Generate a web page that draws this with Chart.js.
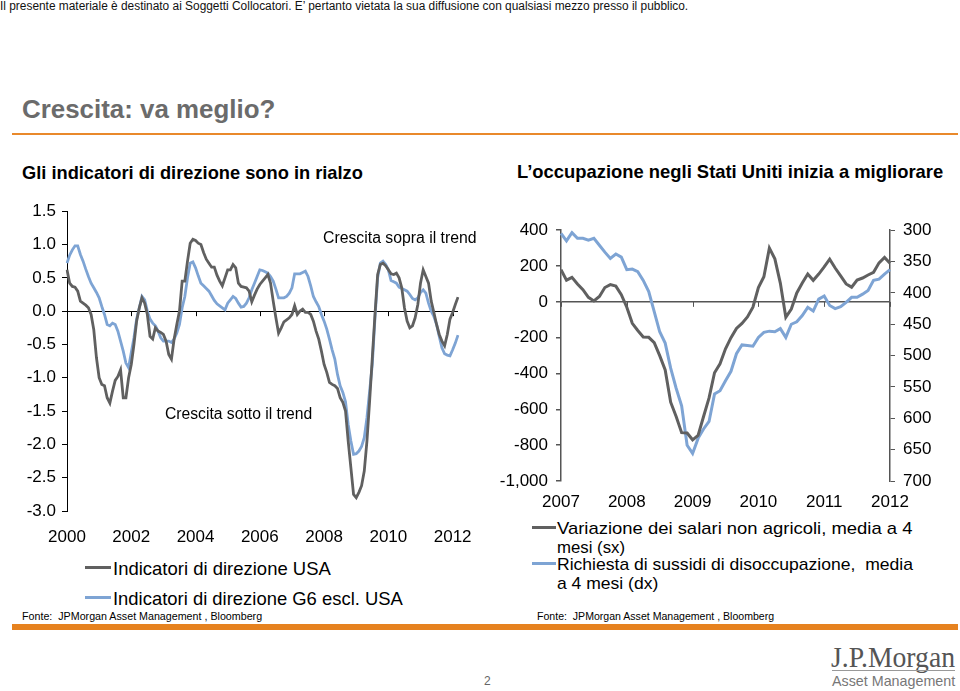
<!DOCTYPE html>
<html>
<head>
<meta charset="utf-8">
<script src="https://cdn.jsdelivr.net/npm/chart.js@4.4.1/dist/chart.umd.min.js"></script>
<style>
  html, body { margin: 0; padding: 0; background: #fff; }
  body { width: 960px; height: 691px; position: relative; overflow: hidden; font-family: "Liberation Sans", Arial, sans-serif; }
  .t { position: absolute; white-space: nowrap; line-height: 1; transform-origin: left center; }
  .bar { position: absolute; }
  canvas { position: absolute; }
</style>
</head>
<body>

<span class="t" style="left:0;top:6px;font-size:12px;color:#111" data-w="688">Il presente materiale è destinato ai Soggetti Collocatori. E’ pertanto vietata la sua diffusione con qualsiasi mezzo presso il pubblico.</span>

<span class="t" style="left:22px;top:109px;font-size:26px;font-weight:bold;color:#6b6b6b" data-w="253">Crescita: va meglio?</span>
<div class="bar" style="left:12px;top:133px;width:946px;height:2px;background:#e9892b"></div>

<span class="t" style="left:22px;top:172px;font-size:19px;font-weight:bold;color:#000" data-w="341">Gli indicatori di direzione sono in rialzo</span>
<span class="t" style="left:517px;top:171px;font-size:19px;font-weight:bold;color:#000" data-w="426">L’occupazione negli Stati Uniti inizia a migliorare</span>

<canvas id="leftChart" width="475" height="356" style="left:0;top:195px"></canvas>
<canvas id="rightChart" width="465" height="305" style="left:495px;top:212px"></canvas>

<span class="t" style="left:323px;top:238px;font-size:16px;color:#000" data-w="154">Crescita sopra il trend</span>
<span class="t" style="left:165px;top:414px;font-size:16px;color:#000" data-w="147">Crescita sotto il trend</span>

<!-- legend left -->
<div class="bar" style="left:85px;top:566px;width:26px;height:3px;background:#606060"></div>
<span class="t" style="left:113px;top:568px;font-size:19px;color:#000" data-w="218">Indicatori di direzione USA</span>
<div class="bar" style="left:85px;top:596px;width:26px;height:3px;background:#7ea4d4"></div>
<span class="t" style="left:113px;top:598px;font-size:19px;color:#000" data-w="290">Indicatori di direzione G6 escl. USA</span>

<!-- legend right -->
<div class="bar" style="left:532px;top:526px;width:24px;height:3px;background:#606060"></div>
<span class="t" style="left:557px;top:528px;font-size:17px;color:#000" data-w="356">Variazione dei salari non agricoli, media a 4</span>
<span class="t" style="left:557px;top:547px;font-size:17px;color:#000" data-w="68">mesi (sx)</span>
<div class="bar" style="left:532px;top:562px;width:24px;height:3px;background:#7ea4d4"></div>
<span class="t" style="left:557px;top:564px;font-size:17px;color:#000" data-w="356">Richiesta di sussidi di disoccupazione,&nbsp; media</span>
<span class="t" style="left:557px;top:583px;font-size:17px;color:#000" data-w="101">a 4 mesi (dx)</span>

<span class="t" style="left:22px;top:616px;font-size:11px;color:#000" data-w="240">Fonte:&nbsp; JPMorgan Asset Management , Bloomberg</span>
<span class="t" style="left:537px;top:616px;font-size:11px;color:#000" data-w="237">Fonte:&nbsp; JPMorgan Asset Management , Bloomberg</span>

<div class="bar" style="left:12px;top:624px;width:946px;height:6px;background:#e6821f"></div>

<span class="t" style="left:484px;top:681px;font-size:12px;color:#666">2</span>
<span class="t" style="left:831px;top:657px;font-size:29px;color:#555;font-family:'Liberation Serif',serif" data-w="124">J.P.Morgan</span>
<div class="bar" style="left:832px;top:670px;width:123px;height:1px;background:#999"></div>
<span class="t" style="left:832px;top:680px;font-size:15px;color:#777" data-w="123">Asset Management</span>

<script>
// --- left chart: leading indicators, monthly Jan 2000 .. Mar 2012
var leadUSA = [
  0.62, 0.42, 0.37, 0.36, 0.30, 0.15, 0.12, 0.09, 0.05, -0.05, -0.28, -0.70,
  -1.00, -1.10, -1.12, -1.30, -1.38, -1.20, -1.04, -0.98, -0.88, -1.30, -1.30, -1.00,
  -0.80, -0.50, -0.15, 0.05, 0.20, 0.12, -0.05, -0.38, -0.42, -0.25, -0.30, -0.32,
  -0.35, -0.45, -0.65, -0.72, -0.42, -0.20, 0.00, 0.45, 0.45, 0.75, 1.02, 1.08,
  1.06, 1.02, 1.00, 0.88, 0.78, 0.72, 0.66, 0.66, 0.54, 0.45, 0.38, 0.50,
  0.62, 0.62, 0.70, 0.65, 0.42, 0.37, 0.36, 0.35, 0.30, 0.14, 0.24, 0.33,
  0.40, 0.45, 0.50, 0.55, 0.42, 0.15, -0.10, -0.33, -0.25, -0.16, -0.13, -0.10,
  -0.05, 0.08, -0.05, 0.00, 0.03, -0.02, -0.02, -0.05, -0.15, -0.30, -0.42, -0.60,
  -0.80, -0.92, -1.07, -1.10, -1.12, -1.16, -1.30, -1.37, -1.50, -1.95, -2.35, -2.75,
  -2.80, -2.72, -2.62, -2.40, -1.95, -1.35, -0.70, -0.05, 0.55, 0.70, 0.72, 0.68,
  0.62, 0.56, 0.55, 0.57, 0.50, 0.35, 0.05, -0.15, -0.25, -0.22, -0.10, 0.10,
  0.42, 0.62, 0.52, 0.42, 0.15, -0.02, -0.20, -0.35, -0.45, -0.52, -0.35, -0.12,
  -0.02, 0.10, 0.21
];
var leadG6 = [
  0.72, 0.84, 0.92, 0.98, 0.98, 0.85, 0.75, 0.63, 0.52, 0.42, 0.35, 0.28,
  0.20, 0.07, -0.05, -0.20, -0.22, -0.18, -0.20, -0.30, -0.45, -0.60, -0.78, -0.85,
  -0.62, -0.40, -0.12, 0.05, 0.22, 0.17, 0.00, -0.12, -0.18, -0.22, -0.30, -0.40,
  -0.45, -0.45, -0.45, -0.47, -0.42, -0.33, -0.20, 0.05, 0.22, 0.50, 0.72, 0.74,
  0.65, 0.53, 0.42, 0.38, 0.34, 0.30, 0.23, 0.16, 0.11, 0.08, 0.05, 0.02,
  0.12, 0.17, 0.22, 0.19, 0.12, 0.06, 0.07, 0.12, 0.20, 0.32, 0.42, 0.52,
  0.62, 0.61, 0.59, 0.57, 0.52, 0.45, 0.33, 0.20, 0.20, 0.20, 0.22, 0.27,
  0.35, 0.56, 0.56, 0.56, 0.58, 0.60, 0.52, 0.38, 0.22, 0.14, 0.07, -0.05,
  -0.15, -0.27, -0.42, -0.58, -0.72, -0.95, -1.12, -1.22, -1.36, -1.70, -1.95, -2.15,
  -2.14, -2.10, -2.03, -1.90, -1.60, -1.20, -0.80, -0.10, 0.50, 0.72, 0.75, 0.70,
  0.62, 0.46, 0.44, 0.42, 0.36, 0.34, 0.32, 0.30, 0.25, 0.19, 0.17, 0.20,
  0.28, 0.32, 0.27, 0.12, 0.00, -0.08, -0.20, -0.38, -0.55, -0.64, -0.66, -0.67,
  -0.58, -0.48, -0.36
];

// --- right chart: US jobs, monthly Jan 2007 .. Jan 2012
var payrolls = [
  180, 121, 137, 100, 68, 25, 5, 30, 80, 96, 88, 40,
  -30, -120, -160, -196, -198, -228, -300, -380, -560, -640, -730, -732,
  -770, -745, -640, -536, -396, -346, -262, -200, -148, -120, -84, -30,
  80, 140, 300, 240, 105, -86, -40, 50, 105, 155, 120, 155,
  195, 238, 189, 145, 100, 82, 122, 133, 150, 165, 218, 248,
  215
];
var claims = [
  305, 317, 304, 313, 313, 316, 313, 324, 335, 345, 338, 343,
  363, 362, 366, 380, 398, 430, 462, 480, 520, 552, 580, 643,
  656, 632, 617, 605, 561, 556, 540, 525, 497, 483, 484, 485,
  471, 463, 461, 462, 457, 471, 450, 446, 436, 423, 429, 410,
  405, 420, 425, 422, 415, 407, 407, 402, 396, 380, 378, 370,
  363
];

var leftLabels = [];
for (var y = 2000; y <= 2012; y++) for (var m = 1; m <= 12; m++) leftLabels.push(y + '-' + m);
leftLabels = leftLabels.slice(0, leadUSA.length);
var rightLabels = [];
for (var y = 2007; y <= 2012; y++) for (var m = 1; m <= 12; m++) rightLabels.push(y + '-' + m);
rightLabels = rightLabels.slice(0, payrolls.length);

var GRAY = '#606060';
var BLUE = '#7ea4d4';
var FONT = { family: 'Liberation Sans, Arial, sans-serif', size: 17 };

// small tick marks hanging from the zero line
var zeroTicks = {
  id: 'zeroTicks',
  beforeDatasetsDraw: function (chart, args, opts) {
    var ctx = chart.ctx, xs = chart.scales.x, y0 = chart.scales.y.getPixelForValue(0);
    ctx.save();
    ctx.strokeStyle = opts.color;
    ctx.lineWidth = 1;
    for (var i = 0; i < chart.data.labels.length; i += opts.every) {
      var px = Math.round(xs.getPixelForValue(i)) + 0.5;
      ctx.beginPath();
      ctx.moveTo(px, y0);
      ctx.lineTo(px, y0 + 5);
      ctx.stroke();
    }
    ctx.restore();
  }
};

new Chart(document.getElementById('leftChart'), {
  type: 'line',
  data: {
    labels: leftLabels,
    datasets: [
      { label: 'Indicatori di direzione USA', data: leadUSA, borderColor: GRAY, borderWidth: 2.8, pointRadius: 0, tension: 0 },
      { label: 'Indicatori di direzione G6 escl. USA', data: leadG6, borderColor: BLUE, borderWidth: 2.8, pointRadius: 0, tension: 0 }
    ]
  },
  options: {
    responsive: false,
    animation: false,
    layout: { padding: { top: 15, right: 17, left: 0, bottom: 0 } },
    plugins: { legend: { display: false }, tooltip: { enabled: false }, zeroTicks: { color: '#000', every: 24 } },
    scales: {
      x: {
        grid: { display: false, drawTicks: false },
        border: { display: false },
        ticks: {
          autoSkip: false, maxRotation: 0, padding: 16, color: '#000', font: FONT,
          callback: function (v, i) { return i % 24 === 0 ? leftLabels[i].slice(0, 4) : null; }
        },
        afterFit: function (s) { s.height = 40; s.paddingLeft = 0; s.paddingRight = 0; }
      },
      y: {
        min: -3, max: 1.5,
        ticks: { stepSize: 0.5, color: '#000', font: FONT, padding: 6, callback: function (v) { return v.toFixed(1); } },
        grid: {
          color: function (c) { return c.tick && c.tick.value === 0 ? '#000' : 'rgba(0,0,0,0)'; },
          tickColor: '#000', tickLength: 5
        },
        border: { display: true, color: '#000' },
        afterFit: function (s) { s.width = 67; }
      }
    }
  },
  plugins: [zeroTicks]
});

new Chart(document.getElementById('rightChart'), {
  type: 'line',
  data: {
    labels: rightLabels,
    datasets: [
      { label: 'Variazione dei salari non agricoli, media a 4 mesi (sx)', data: payrolls, yAxisID: 'y', borderColor: GRAY, borderWidth: 3, pointRadius: 0, tension: 0 },
      { label: 'Richiesta di sussidi di disoccupazione, media a 4 mesi (dx)', data: claims, yAxisID: 'y1', borderColor: BLUE, borderWidth: 3, pointRadius: 0, tension: 0 }
    ]
  },
  options: {
    responsive: false,
    animation: false,
    layout: { padding: { top: 15, right: 0, left: 0, bottom: 0 } },
    plugins: { legend: { display: false }, tooltip: { enabled: false }, zeroTicks: { color: '#555', every: 12 } },
    scales: {
      x: {
        grid: { display: false, drawTicks: false },
        border: { display: false },
        ticks: {
          autoSkip: false, maxRotation: 0, padding: 11, color: '#000', font: FONT,
          callback: function (v, i) { return i % 12 === 0 ? rightLabels[i].slice(0, 4) : null; }
        },
        afterFit: function (s) { s.height = 36; s.paddingLeft = 0; s.paddingRight = 0; }
      },
      y: {
        position: 'left', min: -1000, max: 400,
        ticks: { stepSize: 200, color: '#000', font: FONT, padding: 8 },
        grid: {
          color: function (c) { return c.tick && c.tick.value === 0 ? '#555' : 'rgba(0,0,0,0)'; },
          lineWidth: 1.5, tickColor: '#555', tickLength: 5
        },
        border: { display: true, color: '#555', width: 1.5 },
        afterFit: function (s) { s.width = 66; }
      },
      y1: {
        position: 'right', min: 300, max: 700, reverse: true,
        ticks: { stepSize: 50, color: '#000', font: FONT, padding: 8 },
        grid: { drawOnChartArea: false, tickColor: '#555', tickLength: 5 },
        border: { display: true, color: '#555', width: 1.5 },
        afterFit: function (s) { s.width = 70; }
      }
    }
  },
  plugins: [zeroTicks]
});

// squeeze the narrow-looking captions to their widths in the original
document.querySelectorAll('[data-w]').forEach(function (el) {
  var k = parseFloat(el.getAttribute('data-w')) / el.offsetWidth;
  el.style.transform = 'translateY(-50%) scaleX(' + k.toFixed(3) + ')';
});
document.querySelectorAll('.t:not([data-w])').forEach(function (el) {
  el.style.transform = 'translateY(-50%)';
});
</script>
</body>
</html>
